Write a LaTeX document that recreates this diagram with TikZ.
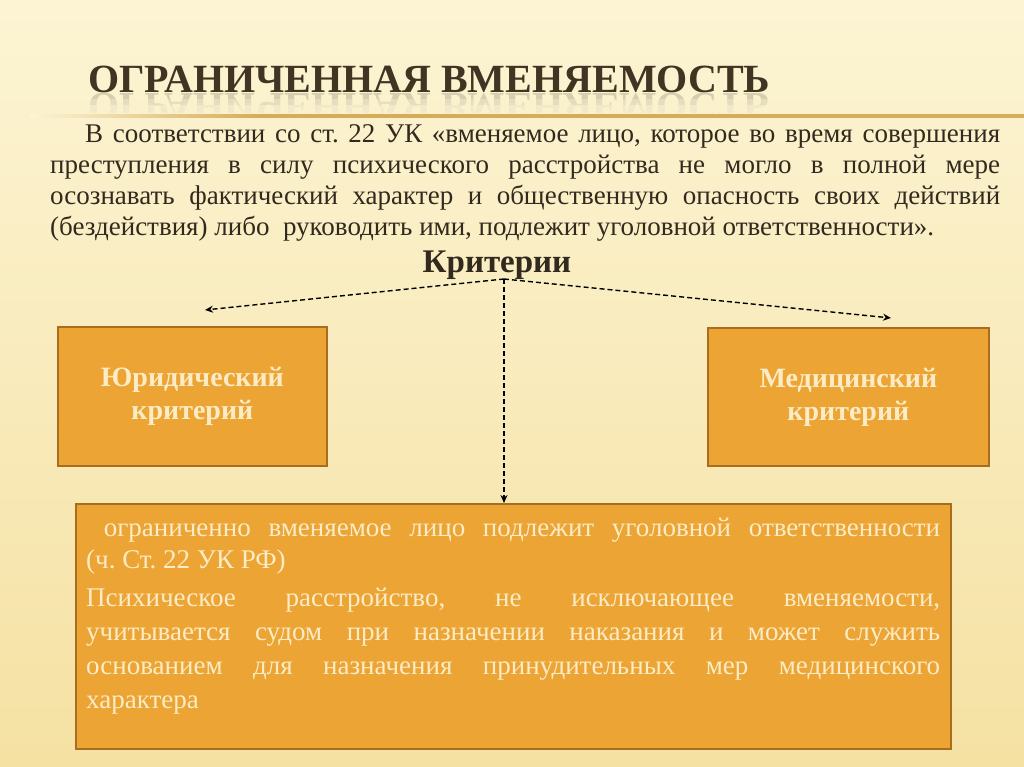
\documentclass[tikz,border=0pt]{standalone}
\usepackage{fontspec}
\setmainfont{Liberation Serif}
\usetikzlibrary{arrows.meta}
\definecolor{bgtop}{RGB}{252,244,212}
\definecolor{bgbot}{RGB}{245,225,162}
\definecolor{goldline}{RGB}{214,172,88}
\definecolor{titlecol}{RGB}{66,52,34}
\definecolor{textcol}{RGB}{50,42,30}
\definecolor{boxfill}{RGB}{236,164,52}
\definecolor{boxborder}{RGB}{168,110,30}
\definecolor{boxtext}{RGB}{252,236,198}
\tikzset{
  critbox/.style={draw=boxborder, line width=1.8pt, fill=boxfill, inner sep=0pt, anchor=north west},
  critlabel/.style={text=boxtext, align=center, font=\fontsize{28}{33}\selectfont\bfseries},
  bodyline/.style={anchor=base west, inner sep=0pt, text=textcol, font=\fontsize{27}{31}\selectfont\frenchspacing},
  boxline/.style={anchor=base west, inner sep=0pt, text=boxtext, font=\fontsize{27}{31}\selectfont\frenchspacing},
  titletext/.style={inner sep=0pt, font=\fontsize{40}{40}\selectfont\bfseries},
  dasharrow/.style={draw=black, line width=1.4pt, dash pattern=on 5pt off 3pt, -{Stealth[length=8pt,width=7pt]}}
}
\begin{document}
\begin{tikzpicture}[x=1pt,y=-1pt]
\useasboundingbox (0,0) rectangle (1024,767);
\shade[top color=bgtop, bottom color=bgbot] (0,0) rectangle (1024,767);
% title with faint reflection
\node[titletext, anchor=base west, text=titlecol] (title) at (88,93) {ОГРАНИЧЕННАЯ ВМЕНЯЕМОСТЬ};
\begin{scope}
  \clip (0,94) rectangle (1024,100);
  \node[titletext, anchor=base west, yscale=-1, text=titlecol!20!bgtop] (refla) at (88,94) {ОГРАНИЧЕННАЯ ВМЕНЯЕМОСТЬ};
\end{scope}
\begin{scope}
  \clip (0,100) rectangle (1024,106);
  \node[titletext, anchor=base west, yscale=-1, text=titlecol!12!bgtop] (reflb) at (88,94) {ОГРАНИЧЕННАЯ ВМЕНЯЕМОСТЬ};
\end{scope}
\begin{scope}
  \clip (0,106) rectangle (1024,113);
  \node[titletext, anchor=base west, yscale=-1, text=titlecol!6!bgtop] (reflc) at (88,94) {ОГРАНИЧЕННАЯ ВМЕНЯЕМОСТЬ};
\end{scope}
% title underline
\shade[left color=bgtop, right color=goldline] (30,114.5) rectangle (260,118);
\fill[goldline] (260,114.5) rectangle (1024,118);
% body paragraph
\node[bodyline] (b1) at (85,143) {\makebox[915pt][s]{В соответствии со ст. 22 УК «вменяемое лицо, которое во время совершения}};
\node[bodyline] (b2) at (50,174) {\makebox[950pt][s]{преступления в силу психического расстройства не могло в полной мере}};
\node[bodyline] (b3) at (50,205) {\makebox[950pt][s]{осознавать фактический характер и общественную опасность своих действий}};
\node[bodyline] (b4) at (50,236) {(бездействия) либо\ \ руководить ими, подлежит уголовной ответственности».};
% criteria heading
\node[anchor=base, inner sep=0pt, text=textcol, font=\fontsize{33}{33}\selectfont\bfseries] (krit) at (497,272) {Критерии};
% boxes
\node[critbox, minimum width=269pt, minimum height=139pt] (jur) at (57,326) {};
\node[critlabel] (jurt) at (jur.center) {Юридический\\критерий};
\node[critbox, minimum width=281pt, minimum height=138pt] (med) at (707,327) {};
\node[critlabel] (medt) at (med.center) {Медицинский\\критерий};
\node[critbox, minimum width=875pt, minimum height=245pt] (res) at (75,503) {};
\node[boxline] (r1) at (86,536) {\makebox[854pt][s]{\ ограниченно вменяемое лицо подлежит уголовной ответственности}};
\node[boxline] (r2) at (86,568) {(ч. Ст. 22 УК РФ)};
\node[boxline] (r3) at (86,606) {\makebox[854pt][s]{Психическое расстройство, не исключающее вменяемости,}};
\node[boxline] (r4) at (86,640) {\makebox[854pt][s]{учитывается судом при назначении наказания и может служить}};
\node[boxline] (r5) at (86,674) {\makebox[854pt][s]{основанием для назначения принудительных мер медицинского}};
\node[boxline] (r6) at (86,708) {характера};
% connectors
\coordinate (apex) at (504,279);
\coordinate (ltip) at (205,310);
\coordinate (rtip) at (891,318);
\draw[dasharrow] (apex) -- (ltip);
\draw[dasharrow] (apex) -- (rtip);
\draw[dasharrow] (apex) -- (apex |- res.north);
\end{tikzpicture}
\end{document}
